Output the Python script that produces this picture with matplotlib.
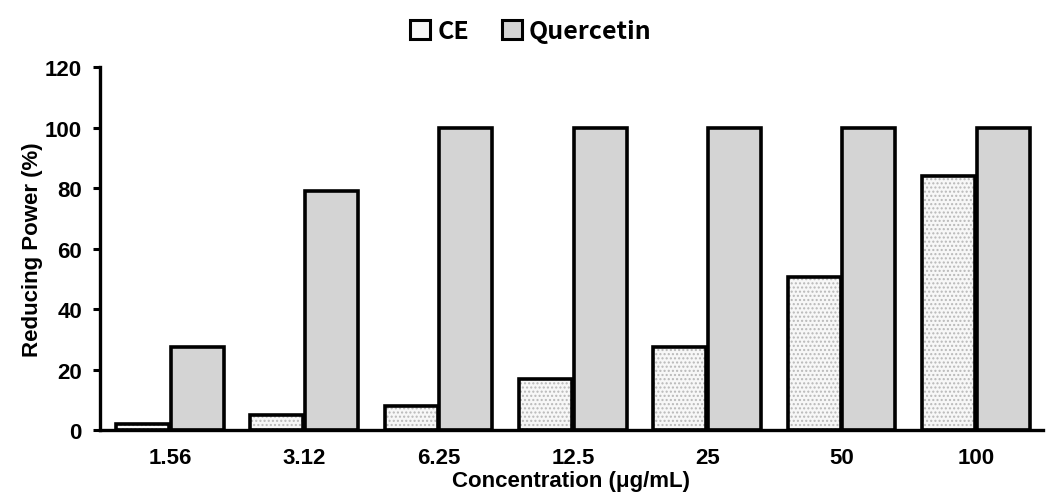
import matplotlib
matplotlib.use("Agg")
import matplotlib.pyplot as plt
import numpy as np
from matplotlib.patches import Patch

categories = ["1.56", "3.12", "6.25", "12.5", "25", "50", "100"]
ce_values = [2, 5, 8, 17, 27.5, 50.5, 84]
quercetin_values = [27.5, 79, 100, 100, 100, 100, 100]
series_names = ["CE", "Quercetin"]
y_ticks = [0, 20, 40, 60, 80, 100, 120]

plt.rcParams['font.family'] = ['Liberation Sans', 'DejaVu Sans']
plt.rcParams['hatch.linewidth'] = 1.0

fig = plt.figure(figsize=(10.49, 5.02), dpi=100)
ax = fig.add_axes([0.0953, 0.1414, 0.8990, 0.7231])

x = np.arange(len(categories))
w = 0.395
gap = 0.012
ce_x = x - w / 2 - gap / 2
q_x = x + w / 2 + gap / 2

# CE: dotted fill, then black outline
ax.bar(ce_x, ce_values, width=w, color='#f7f7f7', edgecolor='#b8b8b8',
       hatch='....', linewidth=0, zorder=2)
ax.bar(ce_x, ce_values, width=w, facecolor='none', edgecolor='black',
       linewidth=2.6, zorder=3)
ax.bar(q_x, quercetin_values, width=w, color='#d4d4d4', edgecolor='black',
       linewidth=2.6, zorder=3)

ax.set_xlim(-0.52, len(categories) - 0.5)
ax.set_ylim(0, 120)
ax.set_yticks(y_ticks)
ax.set_xticks(x)
ax.set_xticklabels(categories)

for s in ['top', 'right']:
    ax.spines[s].set_visible(False)
for s in ['left', 'bottom']:
    ax.spines[s].set_linewidth(2.4)
    ax.spines[s].set_zorder(4)

ax.tick_params(axis='x', length=0, pad=12, labelsize=16)
ax.tick_params(axis='y', length=5, width=2.2, direction='out', pad=8, labelsize=16)
for lab in ax.get_xticklabels() + ax.get_yticklabels():
    lab.set_fontweight('bold')

ax.set_ylabel("Reducing Power (%)", fontsize=16, fontweight='bold', labelpad=1)
ax.set_xlabel("Concentration (μg/mL)", fontsize=16, fontweight='bold', labelpad=2)

handles = [
    Patch(facecolor='#f7f7f7', edgecolor='black', linewidth=2.2),
    Patch(facecolor='#d4d4d4', edgecolor='black', linewidth=2.2),
]
fig.legend(handles, series_names, loc='upper center', bbox_to_anchor=(0.506, 1.005),
           ncol=2, frameon=False, handlelength=0.8, handleheight=0.8,
           handletextpad=0.3, columnspacing=1.3,
           prop={'family': ['Noto Sans CJK KR', 'DejaVu Sans'], 'weight': 'bold', 'size': 18})

fig.savefig("out.png", dpi=100)
